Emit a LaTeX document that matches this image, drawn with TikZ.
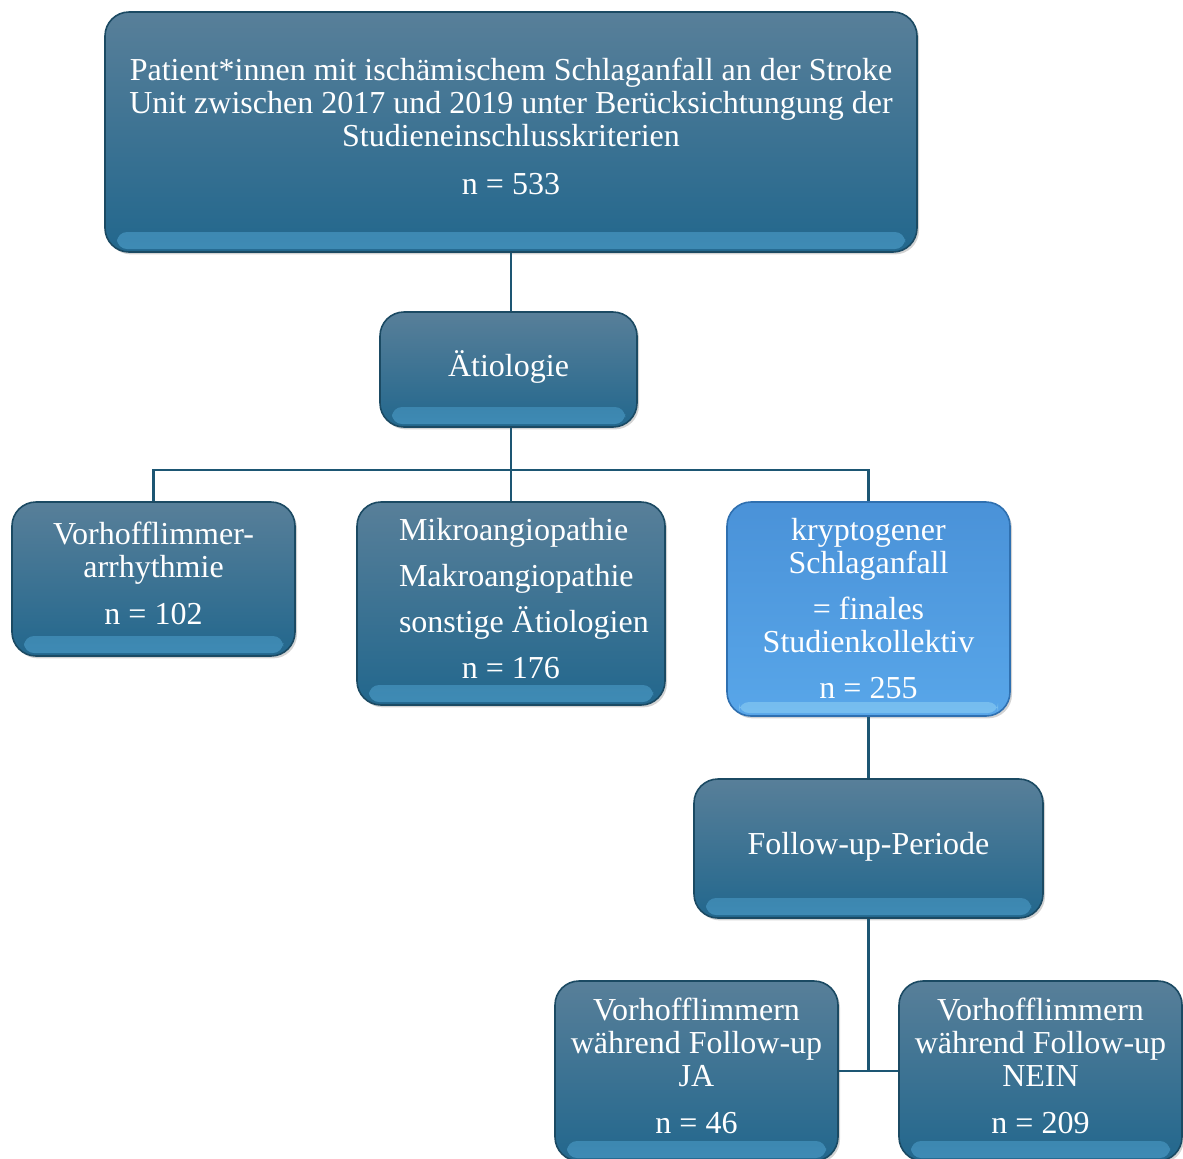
\documentclass[tikz,border=0pt]{standalone}
\usepackage{fontspec}
\setmainfont{Liberation Serif}
\usetikzlibrary{shadows}
\definecolor{boxtop}{HTML}{587F99}
\definecolor{boxbot}{HTML}{22678D}
\definecolor{boxband}{HTML}{4E9FCB}
\definecolor{boxline}{HTML}{1B4A63}
\definecolor{lighttop}{HTML}{4A92D8}
\definecolor{lightbot}{HTML}{58A6E9}
\definecolor{lightband}{HTML}{8ACDF3}
\definecolor{lightline}{HTML}{2F70B0}
\definecolor{linkcol}{HTML}{1D5673}
\newcommand{\etioline}[1]{\makebox[112pt][l]{#1}}
\begin{document}
\begin{tikzpicture}[x=0.5pt,y=-0.5pt,
  flowbox/.style={rounded corners=12pt, draw=boxline, line width=0.8pt,
    top color=boxtop, bottom color=boxbot, text=white, align=center,
    font=\fontsize{16}{16.5}\selectfont, inner sep=0pt, text depth=5.5pt,
    drop shadow={opacity=0.35, shadow xshift=1pt, shadow yshift=-1.2pt},
    path picture={\shade[top color=boxbot, bottom color=boxband, rounded corners=5pt, opacity=0.65]
      ([shift={(6pt,1.5pt)}]path picture bounding box.south west) rectangle
      ([shift={(-6pt,10pt)}]path picture bounding box.south east);}},
  lightbox/.style={flowbox, draw=lightline, top color=lighttop, bottom color=lightbot,
    path picture={\shade[top color=lightbot, bottom color=lightband, rounded corners=5pt, opacity=0.65]
      ([shift={(6pt,1.5pt)}]path picture bounding box.south west) rectangle
      ([shift={(-6pt,7pt)}]path picture bounding box.south east);}},
  link/.style={draw=linkcol, line width=1.1pt}]
  \useasboundingbox (0,0) rectangle (1183,1158);

  % boxes
  \node[flowbox, minimum width=406pt, minimum height=120pt] (patients) at (511,132)
    {Patient*innen mit ischämischem Schlaganfall an der Stroke\\
     Unit zwischen 2017 und 2019 unter Berücksichtungung der\\
     Studieneinschlusskriterien\\[7.5pt] n = 533};
  \node[flowbox, minimum width=128.5pt, minimum height=57.5pt] (aetio) at (508.5,369.5) {Ätiologie};
  \node[flowbox, minimum width=141.5pt, minimum height=77pt] (vhf) at (153.5,579)
    {Vorhofflimmer-\\arrhythmie\\[7pt] n = 102};
  \node[flowbox, minimum width=154pt, minimum height=101.5pt] (angio) at (511,603.5)
    {\etioline{Mikroangiopathie}\\[6.5pt] \etioline{Makroangiopathie}\\[6.5pt]
     \etioline{sonstige Ätiologien}\\[6.5pt] n = 176};
  \node[lightbox, minimum width=141.5pt, minimum height=107pt, text depth=1pt] (krypto) at (868.5,609)
    {kryptogener\\Schlaganfall\\[6.5pt] = finales\\Studienkollektiv\\[6.5pt] n = 255};
  \node[flowbox, minimum width=174.5pt, minimum height=69.5pt] (followup) at (868.5,848.5) {Follow-up-Periode};
  \node[flowbox, minimum width=141.5pt, minimum height=90pt] (ja) at (696.5,1071)
    {Vorhofflimmern\\während Follow-up\\JA\\[7pt] n = 46};
  \node[flowbox, minimum width=141.5pt, minimum height=90pt] (nein) at (1040.5,1071)
    {Vorhofflimmern\\während Follow-up\\NEIN\\[7pt] n = 209};

  % connectors
  \coordinate (split) at (511,470);
  \coordinate (join) at (868.5,1071);
  \draw[link] (patients.south) -- (aetio.north -| patients.south);
  \draw[link] (aetio.south -| split) -- (split);
  \draw[link] (split) -| (vhf.north);
  \draw[link] (split) -| (krypto.north);
  \draw[link] (split) -- (angio.north);
  \draw[link] (krypto.south) -- (followup.north);
  \draw[link] (followup.south) -- (join);
  \draw[link] (ja.east) -- (nein.west);
\end{tikzpicture}
\end{document}
